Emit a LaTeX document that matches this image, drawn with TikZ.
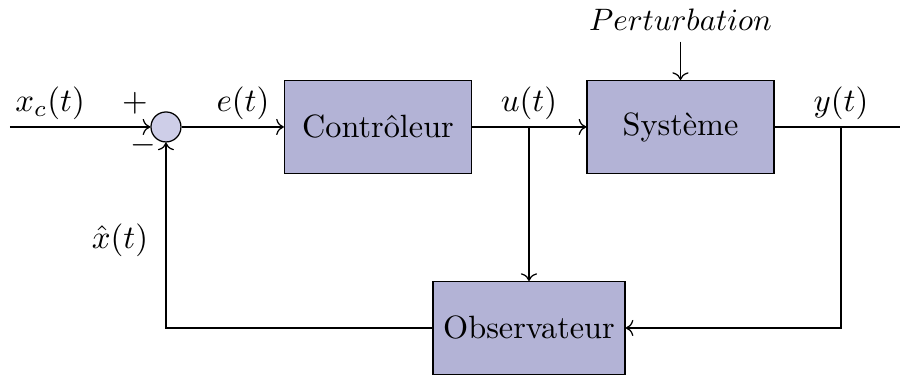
\documentclass[tikz,border=0pt]{standalone}
\usepackage{tikz}
\usepackage{fix-cm}
\usetikzlibrary{arrows.meta, positioning, calc}
\definecolor{obsBlock}{RGB}{179, 179, 214}
\definecolor{obsSum}{RGB}{206, 206, 232}

\begin{document}
\begin{tikzpicture}[
    box/.style={rectangle, draw, fill=obsBlock, minimum width=2.12cm, minimum height=1.05cm, font=\fontsize{10.4}{12}\selectfont},
    sum/.style={circle, draw, fill=obsSum, minimum size=0.34cm, inner sep=0pt},
    arr/.style={->},
    lbl/.style={inner sep=1pt, font=\fontsize{10.6}{12}\selectfont}
  ]
    \useasboundingbox (0,0) rectangle (10.2,4.261);

    \coordinate (in) at (0.113,2.822);
    \node[sum] (sum) at (1.881,2.822) {};
    \node[box] (ctrl) at (4.284,2.822) {Contrôleur};
    \node[box] (sys) at (7.712,2.822) {Système};
    \node[box] (obs) at (5.995,0.544) {Observateur};
    \node (pert) at (7.712,4.035) {$Perturbation$};
    \coordinate (ubr) at (5.995,2.822);
    \coordinate (ybr) at (9.531,2.822);
    \coordinate (out) at (10.2,2.822);
    \coordinate (ydn) at (9.531,0.544);
    \coordinate (xdn) at (1.881,0.544);

    % signal labels
    \node[lbl] (lxc) at (0.567,3.094) {$x_c(t)$};
    \node[lbl] (lplus) at (1.530,3.094) {$+$};
    \node[lbl] (lminus) at (1.621,2.618) {$-$};
    \node[lbl] (le) at (2.754,3.094) {$e(t)$};
    \node[lbl] (lu) at (5.995,3.094) {$u(t)$};
    \node[lbl] (ly) at (9.531,3.094) {$y(t)$};
    \node[lbl] (lxh) at (1.360,1.541) {$\hat{x}(t)$};

    \draw[arr] (in) -- (sum);
    \draw[arr] (sum) -- (ctrl);
    \draw[arr] (ctrl) -- (sys);
    \draw[arr] (pert) -- (sys);
    \draw (sys) -- (out);
    \draw[arr] (ubr) -- (obs);
    \draw[arr] (ybr) -- (ydn) -- (obs);
    \draw[arr] (obs) -- (xdn) -- (sum);
  \end{tikzpicture}
\end{document}
